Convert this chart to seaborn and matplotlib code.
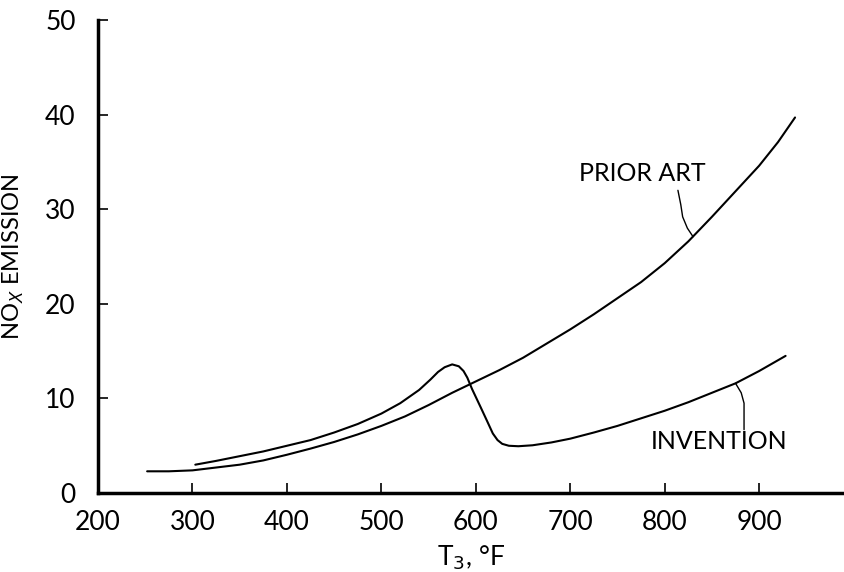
import matplotlib
matplotlib.use("Agg")
import matplotlib.pyplot as plt
import pandas as pd
import seaborn as sns

# data
prior_t = [252, 275, 300, 325, 350, 375, 400, 425, 450, 475, 500, 525, 550,
           575, 600, 625, 650, 675, 700, 725, 750, 775, 800, 825, 850, 875,
           900, 920, 938]
prior_nox = [2.3, 2.3, 2.4, 2.7, 3.0, 3.45, 4.05, 4.7, 5.4, 6.2, 7.1, 8.1,
             9.3, 10.6, 11.8, 13.0, 14.3, 15.8, 17.3, 18.9, 20.6, 22.3, 24.3,
             26.6, 29.2, 31.9, 34.6, 37.1, 39.7]

inv_t = [303, 325, 350, 375, 400, 425, 450, 475, 500, 520, 540, 552, 560, 567,
         575, 582, 587, 591, 596, 605, 612, 618, 623, 628, 635, 645, 660, 680,
         700, 725, 750, 775, 800, 825, 850, 875, 900, 928]
inv_nox = [3.0, 3.4, 3.9, 4.4, 5.0, 5.6, 6.4, 7.3, 8.4, 9.5, 10.9, 12.0, 12.8,
           13.3, 13.6, 13.4, 12.9, 12.2, 11.0, 9.1, 7.6, 6.3, 5.6, 5.2, 5.0,
           4.95, 5.05, 5.35, 5.75, 6.4, 7.1, 7.9, 8.7, 9.6, 10.6, 11.6, 12.9,
           14.5]

x_ticks = [200, 300, 400, 500, 600, 700, 800, 900]
y_ticks = [0, 10, 20, 30, 40, 50]

# leader lines for the labels
prior_lead_t = [814, 817, 819, 824, 830]
prior_lead_nox = [32.0, 30.5, 29.2, 28.0, 27.1]
inv_lead_t = [875, 881, 884, 884]
inv_lead_nox = [11.6, 10.6, 9.5, 6.7]

df = pd.concat([
    pd.DataFrame({"T3": prior_t, "NOx": prior_nox, "curve": "PRIOR ART"}),
    pd.DataFrame({"T3": inv_t, "NOx": inv_nox, "curve": "INVENTION"}),
])

sns.set_style("ticks")
plt.rcParams["font.family"] = ["Lato", "DejaVu Sans"]
plt.rcParams["text.color"] = "black"
plt.rcParams["axes.labelcolor"] = "black"
plt.rcParams["xtick.color"] = "black"
plt.rcParams["ytick.color"] = "black"

fig = plt.figure(figsize=(8.45, 5.72), dpi=100)
ax = fig.add_axes([0.116, 0.138, 0.883, 0.827])

sns.lineplot(data=df, x="T3", y="NOx", units="curve", estimator=None,
             sort=False, color="black", linewidth=1.5, ax=ax, legend=False)

ax.plot(prior_lead_t, prior_lead_nox, color="black", linewidth=1.0)
ax.plot(inv_lead_t, inv_lead_nox, color="black", linewidth=1.0)

ax.text(776, 33.8, "PRIOR ART", ha="center", va="center", fontsize=18)
ax.text(858, 5.4, "INVENTION", ha="center", va="center", fontsize=18)

ax.set_xlim(200, 990)
ax.set_ylim(0, 50)
ax.set_xticks(x_ticks)
ax.set_yticks(y_ticks)
ax.tick_params(direction="in", length=7, width=1.2, labelsize=19, pad=12)
ax.tick_params(axis="y", pad=16)

for side in ["top", "right"]:
    ax.spines[side].set_visible(False)
for side in ["left", "bottom"]:
    ax.spines[side].set_linewidth(2.5)
    ax.spines[side].set_color("black")

ax.set_xlabel("T$_3$, °F", fontsize=19, labelpad=6)
ax.set_ylabel("NO$_X$ EMISSION", fontsize=17, labelpad=14)

fig.savefig("out.png", dpi=100)
